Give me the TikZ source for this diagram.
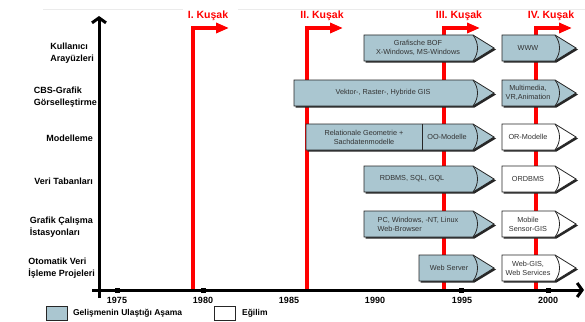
\documentclass[tikz,border=0pt]{standalone}
\usepackage{fontspec}
\setmainfont{Liberation Sans}
\usetikzlibrary{arrows.meta,positioning}
\definecolor{stageblue}{RGB}{170,198,208}
\definecolor{kusakred}{RGB}{255,0,0}
\definecolor{boxtext}{RGB}{50,50,50}
\tikzset{
  axis/.style={line width=3pt, -{Straight Barb[length=5pt,width=14pt]}},
  kusak/.style={draw=kusakred, line width=3.5pt, -{Triangle[length=13pt,width=10pt]}},
  kusaklabel/.style={text=kusakred, font=\fontsize{10.5}{12}\selectfont\bfseries},
  rowlabel/.style={anchor=east, align=left, inner sep=0pt, font=\fontsize{9}{12.5}\selectfont\bfseries},
  stageline/.style={draw=black!85, line width=0.8pt},
  stagetext/.style={text=boxtext, align=center, inner sep=0pt, font=\fontsize{7.3}{9}\selectfont},
  year/.style={font=\fontsize{9}{10}\selectfont\bfseries, inner sep=0pt},
  legendbox/.style={draw=black!85, line width=0.8pt, minimum width=21pt, minimum height=14pt, inner sep=0pt},
  legendtext/.style={font=\fontsize{8.5}{10}\selectfont\bfseries, inner sep=0pt}
}
% arrow shape: fill, left x, body end x, middle y
\newcommand\stagearrow[4]{%
  \fill[black!85] ({#2+1.5},{#4-11.5}) -- ({#3+1.5},{#4-11.5}) -- ({#3+23},{#4+1.5}) -- ({#3+1.5},{#4+14.5}) -- ({#2+1.5},{#4+14.5}) -- cycle;
  \draw[stageline, fill=#1] (#2,{#4-13}) -- (#3,{#4-13}) -- ({#3+21},#4) -- (#3,{#4+13}) -- (#2,{#4+13}) -- cycle;
  \draw[stageline] (#3,{#4-13}) .. controls ({#3+6},{#4-5}) and ({#3+6},{#4+5}) .. (#3,{#4+13});
}
\begin{document}
\begin{tikzpicture}[x=1pt, y=-1pt]
    \useasboundingbox (0,0) rectangle (585,321);
    \draw[black!8] (43,9) -- (183,9);
    \draw[black!8] (238,9) -- (585,9);
    % generations
    \foreach \x/\lab/\n in {193/I/1, 307/II/2, 444/III/3, 536/IV/4} {
        \coordinate (k\n b) at (\x,290);
        \coordinate (k\n t) at (\x,28);
        \coordinate (k\n e) at (\x+36,28);
        \node[kusaklabel] (k\n) at (\x+15,16) {\lab. Kuşak};
        \draw[kusak] (k\n b) -- (k\n t) -- (k\n e);
    }
    % axes
    \coordinate (o1) at (99,298);
    \coordinate (o2) at (92,290);
    \coordinate (ytop) at (99,16);
    \coordinate (xend) at (584,290);
    \draw[axis] (o1) -- (ytop);
    \draw[axis] (o2) -- (xend);
    \foreach \x in {117,203,461,548}
        \fill (\x-2.5,287.5) rectangle (\x+2.5,292.5);
    \foreach \yr/\x in {1975/117, 1980/203, 1985/289, 1990/375, 1995/462, 2000/548}
        \node[year] (y\yr) at (\x,300) {\yr};
    % rows
    \node[rowlabel] (r1) at (94,53) {Kullanıcı\\Arayüzleri};
    \node[rowlabel] (r2) at (97,97) {CBS-Grafik\\Görselleştirme};
    \node[rowlabel] (r3) at (93,138) {Modelleme};
    \node[rowlabel] (r4) at (93,181) {Veri Tabanları};
    \node[rowlabel] (r5) at (93,227) {Grafik Çalışma\\İstasyonları};
    \node[rowlabel] (r6) at (95,268) {Otomatik Veri\\İşleme Projeleri};
    % stages
    \stagearrow{stageblue}{364}{473}{48}
    \node[stagetext] (s1a) at (418,48) {Grafische BOF\\X-Windows, MS-Windows};
    \stagearrow{stageblue}{502}{555}{48}
    \node[stagetext] (s1b) at (528,48) {WWW};
    \stagearrow{stageblue}{294}{473}{93}
    \node[stagetext] (s2a) at (383,93) {Vektor-, Raster-, Hybride GIS};
    \stagearrow{stageblue}{502}{555}{93}
    \node[stagetext] (s2b) at (528,93) {Multimedia,\\VR,Animation};
    \stagearrow{stageblue}{306}{473}{137}
    \draw[stageline] (422,124) -- (422,150);
    \node[stagetext] (s3a) at (364,137) {Relationale Geometrie +\\Sachdatenmodelle};
    \node[stagetext] (s3c) at (447,137) {OO-Modelle};
    \stagearrow{white}{502}{555}{137}
    \node[stagetext] (s3b) at (528,137) {OR-Modelle};
    \stagearrow{stageblue}{364}{473}{179}
    \node[stagetext] (s4a) at (412,179) {RDBMS, SQL, GQL};
    \stagearrow{white}{502}{555}{179}
    \node[stagetext] (s4b) at (528,179) {ORDBMS};
    \stagearrow{stageblue}{364}{473}{224}
    \node[stagetext, align=left] (s5a) at (418,224) {PC, Windows, -NT, Linux\\Web-Browser};
    \stagearrow{white}{502}{555}{224}
    \node[stagetext] (s5b) at (528,224) {Mobile\\Sensor-GIS};
    \stagearrow{stageblue}{419}{473}{268}
    \node[stagetext] (s6a) at (449,268) {Web Server};
    \stagearrow{white}{502}{555}{268}
    \node[stagetext] (s6b) at (528,268) {Web-GIS,\\Web Services};
    % legend
    \node[legendbox, fill=stageblue] (lg1) at (57,313) {};
    \node[legendtext, right=5pt of lg1] (lt1) {Gelişmenin Ulaştığı Aşama};
    \node[legendbox, fill=white] (lg2) at (225,313) {};
    \node[legendtext, right=6pt of lg2] (lt2) {Eğilim};
\end{tikzpicture}
\end{document}
